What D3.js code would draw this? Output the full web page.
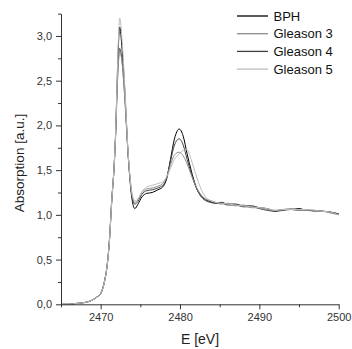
<!DOCTYPE html>
<html><head><meta charset="utf-8">
<script src="https://cdn.jsdelivr.net/npm/d3@7"></script>
<style>body{margin:0;background:#fff}svg{display:block}text{font-family:"Liberation Sans",Arial,sans-serif}</style>
</head><body>
<script>
const energy = [2465, 2466, 2467, 2468, 2469, 2469.5, 2470, 2470.5, 2470.8, 2471.1, 2471.4, 2471.7, 2471.9, 2472.1, 2472.4, 2472.7, 2473.0, 2473.5, 2474.0, 2474.3, 2474.7, 2475.2, 2475.8, 2476.5, 2477.2, 2477.8, 2478.3, 2478.8, 2479.3, 2479.9, 2480.4, 2480.9, 2481.4, 2482.0, 2482.6, 2483.2, 2483.8, 2484.5, 2485.2, 2486, 2487, 2488, 2489, 2490, 2491, 2492, 2493, 2494, 2495, 2496, 2497, 2498, 2499, 2500];
const bph = [0,0,0.01,0.02,0.05,0.08,0.12,0.26,0.42,0.70,1.16,1.55,1.95,2.55,3.10,2.85,2.45,1.62,1.15,1.07,1.12,1.20,1.24,1.25,1.28,1.31,1.40,1.62,1.85,1.96,1.88,1.68,1.50,1.32,1.22,1.17,1.15,1.13,1.14,1.12,1.12,1.10,1.10,1.08,1.07,1.04,1.06,1.06,1.07,1.05,1.05,1.04,1.03,1.01];
const gleason3 = [0,0,0.01,0.02,0.05,0.08,0.12,0.26,0.42,0.71,1.16,1.54,1.92,2.45,2.82,2.70,2.35,1.62,1.20,1.14,1.17,1.25,1.29,1.30,1.32,1.35,1.42,1.56,1.67,1.70,1.66,1.57,1.45,1.32,1.23,1.18,1.16,1.14,1.12,1.13,1.10,1.11,1.08,1.08,1.06,1.05,1.06,1.07,1.05,1.05,1.04,1.04,1.02,1.00];
const gleason4 = [0,0,0.01,0.02,0.05,0.08,0.12,0.27,0.43,0.72,1.17,1.55,1.93,2.48,2.86,2.72,2.38,1.63,1.18,1.12,1.15,1.23,1.27,1.28,1.30,1.33,1.40,1.60,1.78,1.85,1.78,1.62,1.47,1.31,1.21,1.16,1.14,1.13,1.13,1.11,1.11,1.09,1.09,1.07,1.05,1.04,1.05,1.06,1.05,1.06,1.04,1.04,1.03,1.01];
const gleason5 = [0,0,0.01,0.02,0.05,0.08,0.12,0.26,0.42,0.70,1.16,1.56,1.97,2.60,3.20,2.95,2.50,1.65,1.22,1.16,1.18,1.26,1.31,1.33,1.35,1.37,1.42,1.52,1.62,1.68,1.72,1.73,1.62,1.45,1.30,1.20,1.16,1.14,1.13,1.12,1.11,1.10,1.09,1.08,1.07,1.05,1.06,1.06,1.06,1.06,1.05,1.04,1.03,1.00];
const seriesNames = ["BPH", "Gleason 3", "Gleason 4", "Gleason 5"];
const seriesColors = ["#000000", "#8c8c8c", "#404040", "#bdbdbd"];
const xTicks = [2470, 2480, 2490, 2500];
const xMinorTicks = [2465, 2475, 2485, 2495];
const yTicks = [0, 0.5, 1.0, 1.5, 2.0, 2.5, 3.0];
const yMinorTicks = [0.25, 0.75, 1.25, 1.75, 2.25, 2.75, 3.25];
const xLabel = "E [eV]";
const yLabel = "Absorption [a.u.]";

const W = 352, H = 349;
const m = {left: 61, right: 13.3, top: 13.6, bottom: 44.7};
const svg = d3.select("body").append("svg").attr("width", W).attr("height", H);
const x = d3.scaleLinear().domain([2465, 2500]).range([m.left, W - m.right]);
const y = d3.scaleLinear().domain([0, 3.25]).range([H - m.bottom, m.top]);
const fmt = d => d3.format(".1f")(d).replace(".", ",");

const seriesValues = [bph, gleason3, gleason4, gleason5];
const line = d3.line().x((d, i) => x(energy[i])).y(d => y(d)).curve(d3.curveMonotoneX);
[0, 2, 1, 3].forEach(k => {
  svg.append("path").attr("d", line(seriesValues[k])).attr("fill", "none")
    .attr("stroke", seriesColors[k]).attr("stroke-width", 1);
});

const axisColor = "#333";
const xAxis = svg.append("g").attr("transform", `translate(0,${H - m.bottom})`)
  .call(d3.axisBottom(x).tickValues(xTicks).tickFormat(d3.format("d")).tickSize(5).tickSizeOuter(0));
svg.append("g").attr("transform", `translate(0,${H - m.bottom})`)
  .call(d3.axisBottom(x).tickValues(xMinorTicks).tickFormat("").tickSize(3).tickSizeOuter(0))
  .select(".domain").remove();
const yAxis = svg.append("g").attr("transform", `translate(${m.left},0)`)
  .call(d3.axisLeft(y).tickValues(yTicks).tickFormat(fmt).tickSize(5).tickSizeOuter(0));
svg.append("g").attr("transform", `translate(${m.left},0)`)
  .call(d3.axisLeft(y).tickValues(yMinorTicks).tickFormat("").tickSize(3).tickSizeOuter(0))
  .select(".domain").remove();
svg.selectAll(".domain, .tick line").attr("stroke", axisColor).attr("stroke-width", 1);
svg.selectAll(".tick text").attr("fill", "#333").style("font-size", "11px");
xAxis.selectAll(".tick text").attr("dy", "0.71em").attr("y", 9);
yAxis.selectAll(".tick text").attr("x", -9);

svg.append("text").attr("x", 200).attr("y", 344).attr("text-anchor", "middle")
  .style("font-size", "14px").attr("fill", "#222").text(xLabel);
svg.append("text").attr("transform", "translate(24,163) rotate(-90)").attr("text-anchor", "middle")
  .style("font-size", "13.5px").attr("fill", "#222").text(yLabel);

const lg = svg.append("g");
seriesNames.forEach((n, i) => {
  const yy = 16 + i * 17.7;
  lg.append("line").attr("x1", 237).attr("x2", 268).attr("y1", yy).attr("y2", yy)
    .attr("stroke", seriesColors[i]).attr("stroke-width", 1.3);
  lg.append("text").attr("x", 273.5).attr("y", yy).attr("dy", "0.35em")
    .style("font-size", "13px").attr("fill", "#111").text(n);
});
</script>
</body></html>
